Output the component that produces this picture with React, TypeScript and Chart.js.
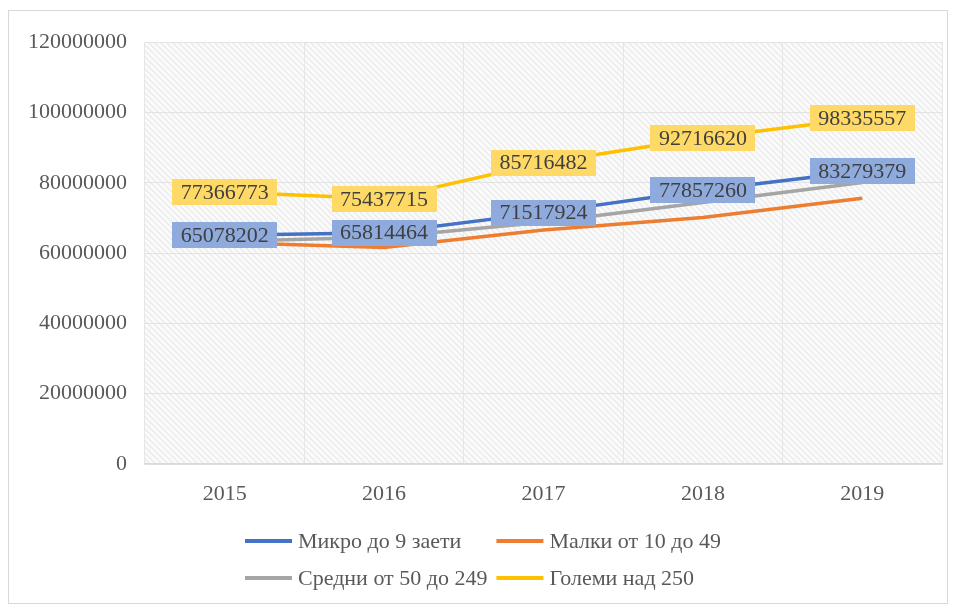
import React, { useEffect, useRef } from "react";
import { Chart, registerables } from "chart.js";

Chart.register(...registerables);

// ---- data ----
const years = ["2015", "2016", "2017", "2018", "2019"];
const micro = [65078202, 65814464, 71517924, 77857260, 83279379];
const small = [63000000, 61600000, 66600000, 70100000, 75600000];
const medium = [63400000, 64500000, 68800000, 74400000, 80100000];
const large = [77366773, 75437715, 85716482, 92716620, 98335557];

const seriesNames = ["Микро до 9 заети", "Малки от 10 до 49", "Средни от 50 до 249", "Големи над 250"];
const seriesColors = ["#4472C4", "#ED7D31", "#A5A5A5", "#FFC000"];
const labelFills: (string | null)[] = ["#8FAADC", null, null, "#FFD966"];

const yMin = 0;
const yMax = 120000000;
const yStep = 20000000;

const FONT = '"Liberation Serif", "Times New Roman", serif';

function makePattern(ctx: CanvasRenderingContext2D) {
  const tile = document.createElement("canvas");
  tile.width = 6;
  tile.height = 6;
  const t = tile.getContext("2d")!;
  t.fillStyle = "#fbfbfb";
  t.fillRect(0, 0, 6, 6);
  t.strokeStyle = "#ebebeb";
  t.lineWidth = 1.5;
  t.beginPath();
  t.moveTo(0, 0);
  t.lineTo(6, 6);
  t.moveTo(-3, 3);
  t.lineTo(3, 9);
  t.moveTo(3, -3);
  t.lineTo(9, 3);
  t.stroke();
  return ctx.createPattern(tile, "repeat");
}

const bgPlugin = {
  id: "plotBg",
  beforeDraw(chart: any) {
    const { ctx, chartArea } = chart;
    const pat = makePattern(ctx);
    ctx.save();
    ctx.fillStyle = pat || "#f7f7f7";
    ctx.fillRect(chartArea.left, chartArea.top, chartArea.right - chartArea.left, chartArea.bottom - chartArea.top);
    ctx.restore();
  },
};

const labelPlugin = {
  id: "boxLabels",
  afterDatasetsDraw(chart: any) {
    const { ctx } = chart;
    ctx.save();
    ctx.font = `22px ${FONT}`;
    ctx.textAlign = "center";
    ctx.textBaseline = "middle";
    chart.data.datasets.forEach((ds: any, di: number) => {
      const fill = labelFills[di];
      if (!fill) return;
      const meta = chart.getDatasetMeta(di);
      meta.data.forEach((pt: any, i: number) => {
        const txt = String(ds.data[i]);
        const w = ctx.measureText(txt).width + 17;
        const h = 26;
        ctx.fillStyle = fill;
        ctx.fillRect(Math.round(pt.x - w / 2), Math.round(pt.y - h / 2), Math.round(w), h);
        ctx.fillStyle = "#404040";
        ctx.fillText(txt, pt.x, pt.y + 1);
      });
    });
    ctx.restore();
  },
};

const legendPlugin = {
  id: "gridLegend",
  afterDraw(chart: any) {
    const { ctx, chartArea, width } = chart;
    ctx.save();
    ctx.font = `22px ${FONT}`;
    ctx.textBaseline = "middle";
    ctx.textAlign = "left";
    const lineLen = 47;
    const gap = 6;
    const colGap = 9;
    const cols = [
      [0, 2],
      [1, 3],
    ];
    const colW = cols.map((c) => lineLen + gap + Math.max(...c.map((i) => ctx.measureText(seriesNames[i]).width)));
    const total = colW[0] + colGap + colW[1];
    let x0 = Math.round(width / 2 - total / 2) + 5;
    const rowsY = [chartArea.bottom + 77, chartArea.bottom + 114];
    cols.forEach((c, ci) => {
      c.forEach((si, ri) => {
        const y = rowsY[ri];
        ctx.strokeStyle = seriesColors[si];
        ctx.lineWidth = 4;
        ctx.beginPath();
        ctx.moveTo(x0, y);
        ctx.lineTo(x0 + lineLen, y);
        ctx.stroke();
        ctx.fillStyle = "#595959";
        ctx.fillText(seriesNames[si], x0 + lineLen + gap, y + 1);
      });
      x0 += colW[ci] + colGap;
    });
    ctx.restore();
  },
};

export default function App() {
  const ref = useRef<HTMLCanvasElement>(null);
  useEffect(() => {
    if (!ref.current) return;
    const allSeries = [micro, small, medium, large];
    const chart = new Chart(ref.current, {
      type: "line",
      data: {
        labels: years,
        datasets: allSeries.map((d, i) => ({
          label: seriesNames[i],
          data: d,
          borderColor: seriesColors[i],
          backgroundColor: seriesColors[i],
          borderWidth: 3.5,
          pointRadius: 0,
          tension: 0,
          fill: false,
        })),
      },
      options: {
        animation: false,
        responsive: false,
        maintainAspectRatio: false,
        layout: { padding: { left: 0, right: 5, top: 29, bottom: 99 } },
        plugins: {
          legend: { display: false },
          tooltip: { enabled: false },
        },
        scales: {
          x: {
            offset: true,
            grid: { display: true, offset: true, color: "#e6e6e6", drawTicks: false },
            border: { display: true, color: "#d9d9d9", width: 1.5 },
            ticks: { color: "#595959", font: { family: FONT, size: 22 }, padding: 17 },
            afterFit: (s: any) => {
              s.height = 40;
            },
          },
          y: {
            min: yMin,
            max: yMax,
            grid: { color: "#e3e3e3", drawTicks: false },
            border: { display: false },
            ticks: {
              stepSize: yStep,
              color: "#595959",
              font: { family: FONT, size: 22 },
              padding: 18,
              callback: (v: any) => String(v),
            },
            afterFit: (s: any) => {
              s.width = 136;
            },
          },
        },
      },
      plugins: [bgPlugin, labelPlugin, legendPlugin],
    });
    return () => chart.destroy();
  }, []);

  return (
    <div
      style={{
        position: "fixed",
        left: 8,
        top: 10,
        width: 940,
        height: 594,
        boxSizing: "border-box",
        border: "1px solid #d9d9d9",
        background: "#ffffff",
      }}
    >
      <canvas ref={ref} width={938} height={592} style={{ display: "block" }} />
    </div>
  );
}
